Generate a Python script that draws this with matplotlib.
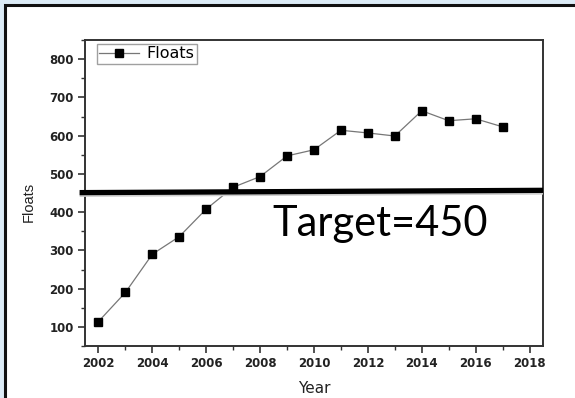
import numpy as np
import matplotlib.pyplot as plt
from matplotlib.patches import Rectangle
from matplotlib.ticker import MultipleLocator

years = np.arange(2002, 2018)
floats = [114, 190, 290, 336, 408, 465, 493, 547, 563, 614, 607, 599, 665, 639, 644, 623]

target = 450
# the drawn target bar is slightly tilted in the original
target_ends = [451, 457]
target_x = [2001.3, 2018.5]

plt.rcParams['font.family'] = ['DejaVu Sans']

fig = plt.figure(figsize=(5.75, 3.98), dpi=100)
fig.patch.set_facecolor('#dcebf6')
W, H = 575, 398
# white panel with dark frame (right and bottom run off the picture)
fig.patches.append(Rectangle((5 / W, -0.05), 1.05, (H - 5) / H + 0.05, transform=fig.transFigure,
                             facecolor='white', edgecolor='#111111', linewidth=2.2, zorder=-5))

ax = fig.add_axes([85 / W, 52 / H, 458 / W, 306 / H])
ax.plot(years, floats, color='#777777', linewidth=0.9, marker='s', markersize=5.3,
        markerfacecolor='black', markeredgecolor='black', label='Floats')

ax.set_xlim(2001.5, 2018.5)
ax.set_ylim(50, 850)
ax.xaxis.set_major_locator(MultipleLocator(2))
ax.xaxis.set_minor_locator(MultipleLocator(1))
ax.yaxis.set_major_locator(MultipleLocator(100))
ax.yaxis.set_minor_locator(MultipleLocator(50))
ax.set_yticks(range(100, 900, 100))
ax.tick_params(which='major', direction='out', length=5, width=1.2, color='#333333', labelsize=8.5, pad=3)
ax.tick_params(which='minor', direction='out', length=3, width=1.0, color='#333333')
for lab in ax.get_xticklabels() + ax.get_yticklabels():
    lab.set_fontweight('bold')
    lab.set_color('#222222')
for sp in ax.spines.values():
    sp.set_linewidth(1.4)
    sp.set_color('#333333')

ax.set_xlabel('Year', fontsize=11, color='#222222', labelpad=7.5)
ax.set_ylabel('Floats', fontsize=10.5, family=['Liberation Sans', 'DejaVu Sans'], color='#222222')
ax.yaxis.set_label_coords(-0.107, 0.47)

leg = ax.legend(loc='upper left', bbox_to_anchor=(0.026, 0.987), fontsize=11.5, frameon=True,
                fancybox=False, borderaxespad=0, handlelength=2.5, handletextpad=0.45,
                borderpad=0.15)
leg.get_frame().set_edgecolor('#888888')
leg.get_frame().set_linewidth(1.0)

# target bar with a soft shadow under it
ax.plot(target_x, [v - 4 for v in target_ends], color='#cccccc', linewidth=4, clip_on=False,
        solid_capstyle='butt', zorder=4)
ax.plot(target_x, target_ends, color='black', linewidth=3.8, clip_on=False,
        solid_capstyle='butt', zorder=5)
ax.text(2008.45, 338, f'Target={target}', fontsize=30, family=['Lato', 'DejaVu Sans'],
        color='black', ha='left', va='baseline', zorder=6)

fig.savefig('out.png', dpi=100, facecolor=fig.get_facecolor())
